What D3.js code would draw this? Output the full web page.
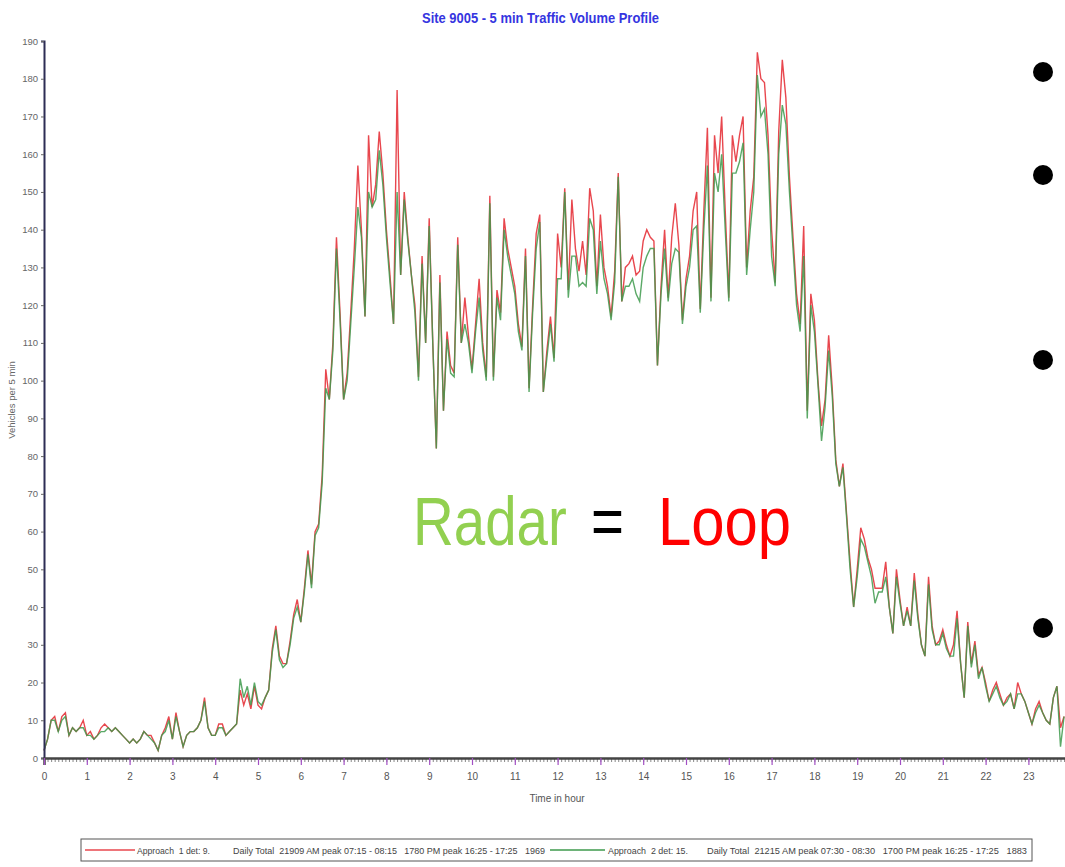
<!DOCTYPE html>
<html>
<head>
<meta charset="utf-8">
<script src="https://cdn.jsdelivr.net/npm/d3@7"></script>
<style>
  body { margin: 0; background: #fff; }
  svg { display: block; }
</style>
</head>
<body>
<div id="chart"></div>
<script>
// 5 min counts, index i = i*5 minutes after midnight
const loopCounts = [
  2,5,10,11,7,11,12,6,8,7,8,10,
  6,7,5,6,8,9,8,7,8,7,6,5,
  4,5,4,5,7,6,6,4,2,6,8,11,
  5,12,7,3,6,7,7,8,10,16,8,6,
  6,9,9,6,7,8,9,18,14,17,13,19,
  14,13,16,18,29,35,27,25,25,31,38,42,
  36,45,55,46,60,62,75,103,95,110,138,118,
  95,102,118,135,157,140,117,165,146,152,166,155,
  140,128,115,177,128,150,138,128,120,101,133,110,
  143,110,82,128,92,113,104,102,138,110,122,112,
  103,115,127,110,101,149,101,124,118,143,135,130,
  125,115,109,135,98,120,139,144,97,108,117,106,
  139,130,151,124,148,135,129,137,128,151,145,125,
  144,130,125,117,129,155,121,130,131,133,128,129,
  137,140,138,137,104,125,140,122,138,147,136,116,
  127,133,145,150,119,145,167,122,165,155,170,145,
  122,165,158,165,170,130,145,154,187,180,179,165,
  140,126,166,185,175,154,138,123,115,141,92,123,
  116,100,88,95,112,98,79,72,78,65,52,40,
  50,61,58,53,50,45,45,45,52,40,33,50,
  42,35,40,35,49,38,30,27,48,35,30,31,
  34,30,27,30,39,25,16,36,25,31,22,24,
  20,15,18,20,17,14,16,17,13,20,17,15,
  12,9,13,15,12,10,9,16,19,8,11
];
const radarCounts = [
  2,5,10,10,7,10,11,6,8,7,8,8,
  6,6,5,6,7,7,8,7,8,7,6,5,
  4,5,4,5,7,6,5,4,2,6,7,10,
  5,11,7,3,6,7,7,8,10,15,8,6,
  6,8,8,6,7,8,9,21,16,19,14,20,
  15,14,16,18,28,34,26,24,25,30,37,40,
  36,44,54,45,59,61,73,98,95,108,135,116,
  95,100,115,130,146,138,117,150,146,148,161,152,
  138,126,115,150,128,148,137,128,118,100,131,110,
  141,110,82,126,92,111,102,101,136,110,115,110,
  102,113,122,108,100,147,100,122,116,140,133,128,
  123,113,108,133,97,118,135,142,97,106,115,105,
  127,127,150,122,133,133,125,126,125,143,140,123,
  137,127,123,116,126,154,121,125,125,127,123,121,
  130,133,135,135,104,123,135,121,131,135,134,115,
  125,130,140,141,118,140,157,121,155,150,160,140,
  121,155,155,158,163,128,140,150,181,170,172,160,
  133,125,160,173,168,150,135,120,113,133,90,120,
  113,99,84,93,108,96,78,72,77,64,50,40,
  48,58,56,52,48,41,44,44,48,40,33,48,
  41,35,39,35,47,37,30,27,46,34,30,30,
  33,29,27,27,37,25,16,35,24,30,21,24,
  19,15,17,19,16,14,15,17,13,17,17,15,
  12,9,12,14,12,10,9,16,19,3,11
];
const hourTicks = d3.range(0, 24);
const countTicks = d3.range(0, 191, 10);
const legendNames = ["Approach  1 det: 9.", "Approach  2 det: 15."];
const legendInfo = [
  "Daily Total  21909 AM peak 07:15 - 08:15   1780 PM peak 16:25 - 17:25   1969",
  "Daily Total  21215 AM peak 07:30 - 08:30   1700 PM peak 16:25 - 17:25   1883"
];
const seriesColors = ["#e8474e", "#3e9a4c"];

const width = 1065, height = 867;
const narrow = "'Liberation Sans Narrow', 'Arial Narrow', 'Liberation Sans', sans-serif";

let svg = d3.select("#chart").append("svg")
  .attr("width", width)
  .attr("height", height);

let x = d3.scaleLinear().domain([0, 24]).range([44, 44 + 24 * 42.8]);
let y = d3.scaleLinear().domain([0, 190]).range([758, 41]);

svg.append("defs").append("clipPath").attr("id", "plotClip")
  .append("rect").attr("x", 0).attr("y", 0).attr("width", width).attr("height", 760);

// title
svg.append("text")
  .attr("x", 422).attr("y", 23)
  .attr("textLength", 237).attr("lengthAdjust", "spacingAndGlyphs")
  .style("font-family", narrow).style("font-weight", "bold").style("font-size", "15px")
  .style("fill", "#3535e0")
  .text("Site 9005 - 5 min Traffic Volume Profile");

// lines
let line = d3.line()
  .x((d, i) => x(i / 12))
  .y(d => y(d));

let plot = svg.append("g").attr("clip-path", "url(#plotClip)");
plot.append("path").datum(loopCounts)
  .attr("fill", "none").attr("stroke", seriesColors[0])
  .attr("stroke-width", 1.4).attr("d", line);
plot.append("path").datum(radarCounts)
  .attr("fill", "none").attr("stroke", seriesColors[1])
  .attr("stroke-width", 1.4).attr("opacity", 0.85).attr("d", line);

// y axis
let yAxis = svg.append("g")
  .attr("transform", "translate(44,0)")
  .call(d3.axisLeft(y).tickValues(countTicks).tickSize(3).tickPadding(3));
yAxis.select(".domain").attr("stroke", "#2d2d55").attr("stroke-width", 2);
yAxis.selectAll(".tick line").attr("stroke", "#666");
yAxis.selectAll(".tick text")
  .style("font-family", narrow).style("font-size", "9.5px").style("fill", "#666");

svg.append("text")
  .attr("transform", "translate(15,400) rotate(-90)")
  .attr("text-anchor", "middle")
  .style("font-family", narrow).style("font-size", "9.5px").style("fill", "#666")
  .text("Vehicles per 5 min");

// x axis: minor ticks every 5 min, major ticks each hour
let minorAxis = svg.append("g")
  .attr("transform", "translate(0,758)")
  .call(d3.axisBottom(x).tickValues(d3.range(0, 24.01, 1 / 12)).tickSize(4).tickFormat(""));
minorAxis.select(".domain").remove();
minorAxis.selectAll(".tick line").attr("stroke", "#888").attr("stroke-width", 1);

let xAxis = svg.append("g")
  .attr("transform", "translate(0,758)")
  .call(d3.axisBottom(x).tickValues(hourTicks).tickSize(7).tickPadding(8));
xAxis.select(".domain").attr("stroke", "#444").attr("stroke-width", 2.5);
xAxis.selectAll(".tick line").attr("stroke", "#a24fc4").attr("stroke-width", 1.2);
xAxis.selectAll(".tick text")
  .style("font-family", narrow).style("font-size", "10px").style("fill", "#555");

svg.append("text")
  .attr("x", 557).attr("y", 802).attr("text-anchor", "middle")
  .style("font-family", narrow).style("font-size", "10px").style("fill", "#555")
  .text("Time in hour");

// legend box
let legend = svg.append("g");
legend.append("rect")
  .attr("x", 81).attr("y", 839).attr("width", 951).attr("height", 22)
  .attr("fill", "#fff").attr("stroke", "#555").attr("stroke-width", 1);

let legendPos = [
  { lx: 85, lw: 50, nx: 137, nw: 73, ix: 233, iw: 312 },
  { lx: 550, lw: 55, nx: 608, nw: 80, ix: 707, iw: 320 }
];
legendNames.forEach((name, i) => {
  let p = legendPos[i];
  legend.append("line")
    .attr("x1", p.lx).attr("x2", p.lx + p.lw).attr("y1", 850).attr("y2", 850)
    .attr("stroke", seriesColors[i]).attr("stroke-width", 1.4);
  legend.append("text")
    .attr("x", p.nx).attr("y", 854)
    .attr("textLength", p.nw).attr("lengthAdjust", "spacingAndGlyphs")
    .style("font-family", narrow).style("font-size", "9px").style("fill", "#444")
    .style("white-space", "pre")
    .text(name);
  legend.append("text")
    .attr("x", p.ix).attr("y", 854)
    .attr("textLength", p.iw).attr("lengthAdjust", "spacingAndGlyphs")
    .style("font-family", narrow).style("font-size", "9px").style("fill", "#444")
    .style("white-space", "pre")
    .text(legendInfo[i]);
});

// slide overlay text, squeezed horizontally to the narrow slide font
let overlayWords = [
  { text: "Radar", x: 413, sx: 0.83, color: "#92d050" },
  { text: "=", x: 591, sx: 0.83, color: "#000" },
  { text: "Loop", x: 658, sx: 0.88, color: "#ff0000" }
];
svg.selectAll(".overlay")
  .data(overlayWords)
  .enter().append("text")
  .attr("class", "overlay")
  .attr("transform", d => `translate(${d.x},545) scale(${d.sx},1)`)
  .style("font-family", "'Liberation Sans', sans-serif").style("font-size", "68px")
  .style("fill", d => d.color)
  .text(d => d.text);

// bullets of the slide
svg.selectAll(".bullet")
  .data([72, 175, 360, 628])
  .enter().append("circle")
  .attr("class", "bullet")
  .attr("cx", 1043).attr("cy", d => d).attr("r", 10)
  .attr("fill", "#000");
</script>
</body>
</html>
